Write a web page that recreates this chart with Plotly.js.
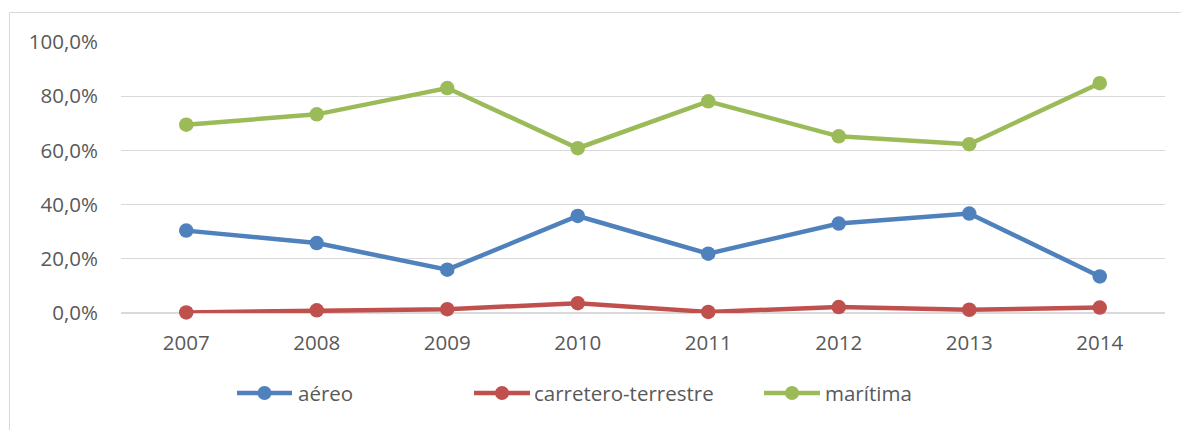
<!DOCTYPE html>
<html>
<head>
<meta charset="utf-8">
<script src="https://cdn.plot.ly/plotly-3.0.1.min.js"></script>
<style>html,body{margin:0;padding:0;background:#fff;}#chart{width:1181px;height:430px;}</style>
</head>
<body>
<div id="chart"></div>
<script>
const years = ['2007', '2008', '2009', '2010', '2011', '2012', '2013', '2014'];
const aereo = [30.4, 25.8, 16.0, 35.8, 21.9, 33.0, 36.7, 13.5];
const carretero = [0.2, 1.0, 1.4, 3.6, 0.4, 2.2, 1.2, 2.0];
const maritima = [69.5, 73.3, 83.0, 60.8, 78.1, 65.2, 62.3, 84.8];
const seriesNames = ['aéreo', 'carretero-terrestre', 'marítima'];
const yTicks = [0, 20, 40, 60, 80, 100];
const yTickLabels = ['0,0%', '20,0%', '40,0%', '60,0%', '80,0%', '100,0%'];

const colors = ['#4F81BD', '#C0504D', '#9BBB59'];
const values = [aereo, carretero, maritima];
const textColor = '#595959';
const fontFamily = '"Open Sans", "Liberation Sans", sans-serif';
const fontSize = 20.5;

// layout geometry (pixels)
const W = 1181, H = 430;
const L = 121, R = 16, T = 42, B = 117;
const plotW = W - L - R, plotH = H - T - B;
const px = x => (x - L) / plotW;
const py = y => (H - B - y) / plotH;

const traces = values.map((v, i) => ({
  type: 'scatter',
  mode: 'lines+markers',
  x: years,
  y: v,
  name: seriesNames[i],
  line: {color: colors[i], width: 4.5},
  marker: {color: colors[i], size: 14.5},
  cliponaxis: false,
  showlegend: false
}));

// custom legend matching reference layout
const legendItems = [
  {x0: 237, x1: 292, tx: 297},
  {x0: 474, x1: 530, tx: 533},
  {x0: 764, x1: 820, tx: 824}
];
const legendY = 393;
const shapes = [];
const annotations = [];
legendItems.forEach((it, i) => {
  shapes.push({type: 'line', xref: 'paper', yref: 'paper',
    x0: px(it.x0), x1: px(it.x1), y0: py(legendY), y1: py(legendY),
    line: {color: colors[i], width: 4.5}});
  shapes.push({type: 'circle', xref: 'paper', yref: 'paper',
    xsizemode: 'pixel', ysizemode: 'pixel',
    xanchor: px((it.x0 + it.x1) / 2), yanchor: py(legendY),
    x0: -7, x1: 7, y0: -7, y1: 7,
    fillcolor: colors[i], line: {width: 0}});
  annotations.push({xref: 'paper', yref: 'paper', x: px(it.tx), y: py(legendY),
    xanchor: 'left', yanchor: 'middle', showarrow: false, text: seriesNames[i],
    font: {family: fontFamily, size: fontSize, color: textColor}, borderpad: 0});
});
// chart border (partly cropped in reference)
shapes.push({type: 'rect', xref: 'paper', yref: 'paper', layer: 'below',
  x0: px(9.5), x1: px(W + 10), y0: py(12.5), y1: py(H + 10),
  line: {color: '#D9D9D9', width: 1}});

const layout = {
  width: W, height: H,
  margin: {l: L, r: R, t: T, b: B, pad: 0},
  paper_bgcolor: '#ffffff',
  plot_bgcolor: '#ffffff',
  font: {family: fontFamily, size: fontSize, color: textColor},
  xaxis: {
    type: 'category',
    range: [-0.5, 7.5],
    showgrid: false,
    zeroline: false,
    showline: false,
    ticks: '',
    ticklabelstandoff: 15,
    tickfont: {family: fontFamily, size: fontSize, color: textColor},
    fixedrange: true
  },
  yaxis: {
    range: [0, 100],
    tickmode: 'array',
    tickvals: yTicks,
    ticktext: yTickLabels,
    showgrid: true,
    gridcolor: '#D9D9D9',
    gridwidth: 1.3,
    zeroline: true,
    zerolinecolor: '#D9D9D9',
    zerolinewidth: 1.3,
    showline: false,
    ticks: '',
    ticklabelstandoff: 22,
    tickfont: {family: fontFamily, size: fontSize, color: textColor},
    fixedrange: true
  },
  shapes: shapes,
  annotations: annotations,
  showlegend: false
};

Plotly.newPlot('chart', traces, layout, {displayModeBar: false, staticPlot: true});
</script>
</body>
</html>
